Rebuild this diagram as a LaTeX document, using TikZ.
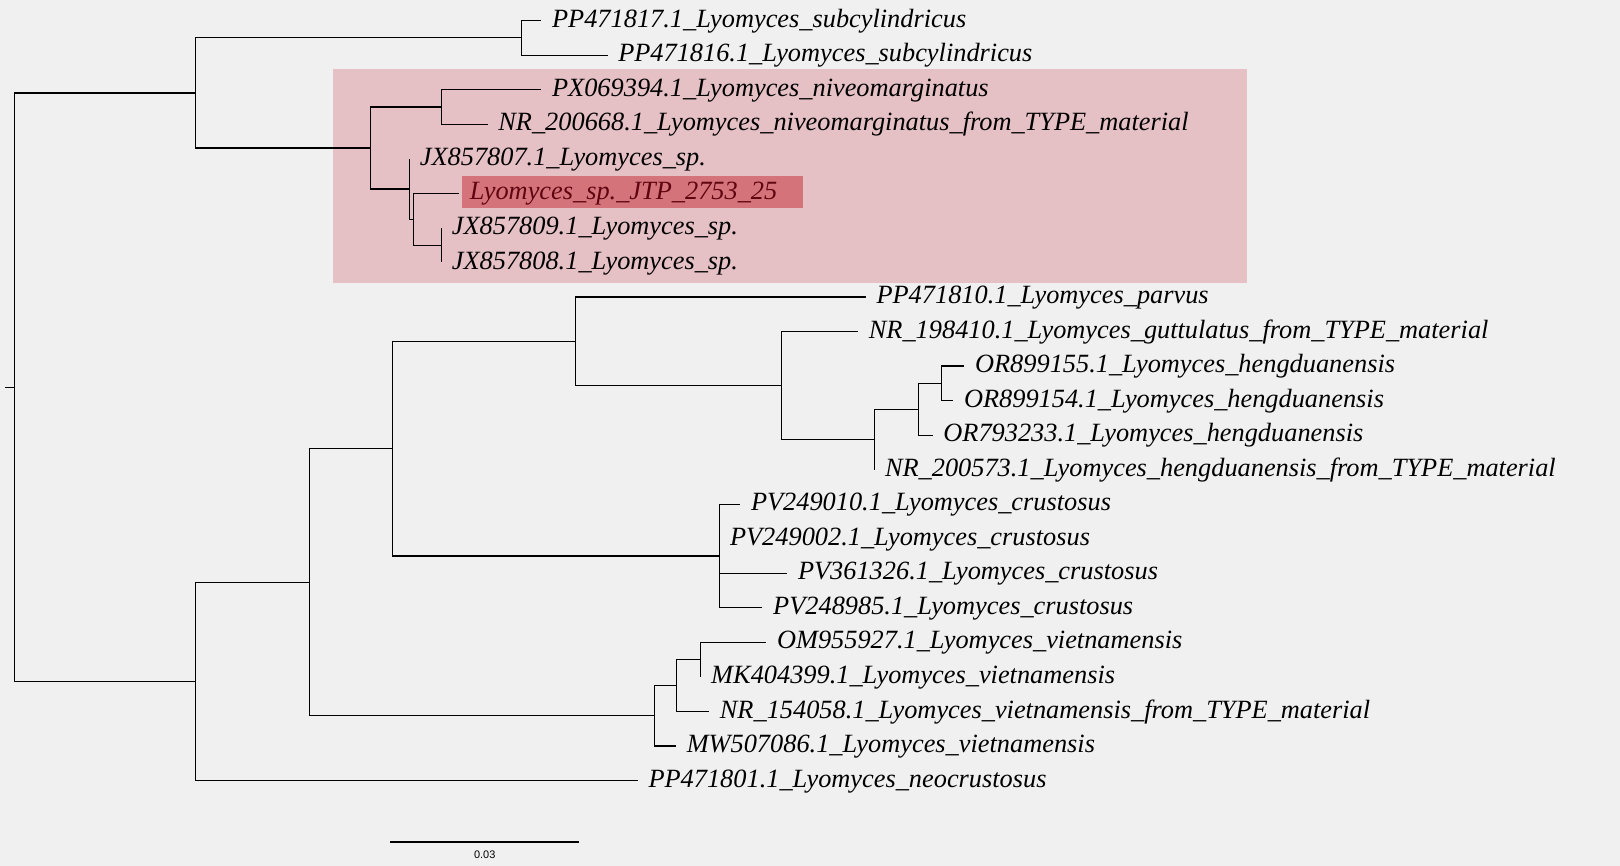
\documentclass[tikz,border=0pt]{standalone}
\usepackage{fontspec}
\setmainfont{Liberation Serif}
\setsansfont{Liberation Sans}
\usepackage{tikz}
\definecolor{paper}{RGB}{240,240,240}
\definecolor{cladepink}{RGB}{229,192,196}
\definecolor{querypink}{RGB}{213,115,122}
\definecolor{querytext}{RGB}{95,5,15}
\def\row#1{20+(#1-1)*33.43}

\begin{document}
\begin{tikzpicture}[x=0.5pt, y=-0.5pt,
		branch/.style={line width=0.55pt, color=black},
		tip/.style={anchor=west, inner xsep=5pt, inner ysep=0pt, text height=9pt, text depth=2.6pt, font=\fontsize{12.75}{15}\selectfont\itshape}]
			%%%%% START %%%%%
			
			\useasboundingbox[fill=paper] (0, 0) rectangle (1568, 838);
			
			\fill[cladepink] (322, 67) rectangle (1207, 273.6);
			\fill[querypink] (447, 170.3) rectangle (777, 201);
			
			% upper clade
			\node[tip] (t1) at (524, {\row{1}}) {PP471817.1\_Lyomyces\_subcylindricus};
			\node[tip] (t2) at (588, {\row{2}}) {PP471816.1\_Lyomyces\_subcylindricus};
			\node[tip] (t3) at (524, {\row{3}}) {PX069394.1\_Lyomyces\_niveomarginatus};
			\node[tip] (t4) at (472, {\row{4}}) {NR\_200668.1\_Lyomyces\_niveomarginatus\_from\_TYPE\_material};
			\node[tip] (t5) at (396, {\row{5}}) {JX857807.1\_Lyomyces\_sp.};
			\node[tip, text=querytext] (t6) at (444.5, {\row{6}}) {Lyomyces\_sp.\_JTP\_2753\_25};
			\node[tip] (t7) at (427, {\row{7}}) {JX857809.1\_Lyomyces\_sp.};
			\node[tip] (t8) at (427, {\row{8}}) {JX857808.1\_Lyomyces\_sp.};
			
			\coordinate (B) at (505, 36.7);
			\coordinate (D) at (427, 103.6);
			\coordinate (G) at (427, 237.3);
			\coordinate (F) at (400, 212.2);
			\coordinate (E) at (396, 183);
			\coordinate (C) at (358.6, 143.3);
			\coordinate (A) at (189.5, 90);
			
			\draw[branch] (B) |- (t1.west);
			\draw[branch] (B) |- (t2.west);
			\draw[branch] (D) |- (t3.west);
			\draw[branch] (D) |- (t4.west);
			\draw[branch] (G) |- (t7.west);
			\draw[branch] (G) |- (t8.west);
			\draw[branch] (F) |- (t6.west);
			\draw[branch] (F) |- (G);
			\draw[branch] (E) |- (t5.west);
			\draw[branch] (E) |- (F);
			\draw[branch] (C) |- (D);
			\draw[branch] (C) |- (E);
			\draw[branch] (A) |- (B);
			\draw[branch] (A) |- (C);
			
			% lower clade
			\node[tip] (t9) at (838, {\row{9}}) {PP471810.1\_Lyomyces\_parvus};
			\node[tip] (t10) at (830.6, {\row{10}}) {NR\_198410.1\_Lyomyces\_guttulatus\_from\_TYPE\_material};
			\node[tip] (t11) at (933.4, {\row{11}}) {OR899155.1\_Lyomyces\_hengduanensis};
			\node[tip] (t12) at (922.7, {\row{12}}) {OR899154.1\_Lyomyces\_hengduanensis};
			\node[tip] (t13) at (902.7, {\row{13}}) {OR793233.1\_Lyomyces\_hengduanensis};
			\node[tip] (t14) at (846.2, {\row{14}}) {NR\_200573.1\_Lyomyces\_hengduanensis\_from\_TYPE\_material};
			\node[tip] (t15) at (716.5, {\row{15}}) {PV249010.1\_Lyomyces\_crustosus};
			\node[tip] (t16) at (696.2, {\row{16}}) {PV249002.1\_Lyomyces\_crustosus};
			\node[tip] (t17) at (762, {\row{17}}) {PV361326.1\_Lyomyces\_crustosus};
			\node[tip] (t18) at (738, {\row{18}}) {PV248985.1\_Lyomyces\_crustosus};
			\node[tip] (t19) at (741.7, {\row{19}}) {OM955927.1\_Lyomyces\_vietnamensis};
			\node[tip] (t20) at (678, {\row{20}}) {MK404399.1\_Lyomyces\_vietnamensis};
			\node[tip] (t21) at (686.4, {\row{21}}) {NR\_154058.1\_Lyomyces\_vietnamensis\_from\_TYPE\_material};
			\node[tip] (t22) at (654.3, {\row{22}}) {MW507086.1\_Lyomyces\_vietnamensis};
			\node[tip] (t23) at (617.3, {\row{23}}) {PP471801.1\_Lyomyces\_neocrustosus};
			
			\coordinate (M) at (911.4, 371);
			\coordinate (L) at (889.2, 396.1);
			\coordinate (K) at (846.2, 425.3);
			\coordinate (J) at (756.2, 373.1);
			\coordinate (I) at (557.3, 330.3);
			\coordinate (N) at (696.2, 538.2);
			\coordinate (H) at (379.5, 434.3);
			\coordinate (T) at (678, 638.5);
			\coordinate (S) at (654.8, 663.5);
			\coordinate (R) at (633.6, 692.8);
			\coordinate (P) at (299.7, 563.5);
			\coordinate (Q) at (189.1, 659.5);
			
			\draw[branch] (M) |- (t11.west);
			\draw[branch] (M) |- (t12.west);
			\draw[branch] (L) |- (M);
			\draw[branch] (L) |- (t13.west);
			\draw[branch] (K) |- (L);
			\draw[branch] (K) |- (t14.west);
			\draw[branch] (J) |- (t10.west);
			\draw[branch] (J) |- (K);
			\draw[branch] (I) |- (t9.west);
			\draw[branch] (I) |- (J);
			\draw[branch] (N) |- (t15.west);
			\draw[branch] (N) |- (t16.west);
			\draw[branch] (N) |- (t17.west);
			\draw[branch] (N) |- (t18.west);
			\draw[branch] (H) |- (I);
			\draw[branch] (H) |- (N);
			\draw[branch] (T) |- (t19.west);
			\draw[branch] (T) |- (t20.west);
			\draw[branch] (S) |- (T);
			\draw[branch] (S) |- (t21.west);
			\draw[branch] (R) |- (S);
			\draw[branch] (R) |- (t22.west);
			\draw[branch] (P) |- (H);
			\draw[branch] (P) |- (R);
			\draw[branch] (Q) |- (P);
			\draw[branch] (Q) |- (t23.west);
			
			% root
			\coordinate (root) at (13.8, 374.7);
			\coordinate (stub) at (5, 374.7);
			\draw[branch] (root) |- (A);
			\draw[branch] (root) |- (Q);
			\draw[branch] (stub) -- (root);
			
			% scale bar
			\coordinate (sbl) at (377.8, 815);
			\coordinate (sbr) at (560.5, 815);
			\draw[branch] (sbl) -- (sbr) node[midway, below=4pt, inner sep=0pt, font=\sffamily\fontsize{5.3}{6}\selectfont] (sblabel) {0.03};
			
			%%%%% END %%%%%
		\end{tikzpicture}
\end{document}
